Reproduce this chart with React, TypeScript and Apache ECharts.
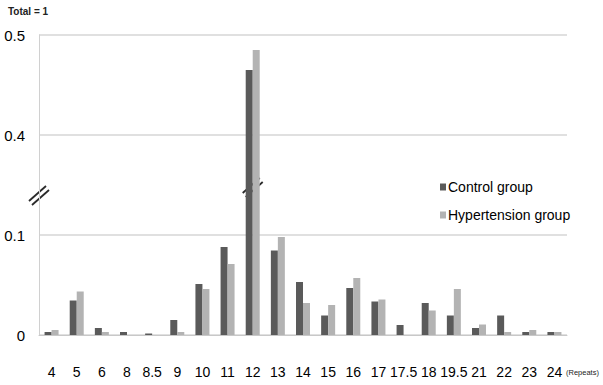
import React, { useEffect, useRef } from "react";
import * as echarts from "echarts";

const categories = ["4", "5", "6", "8", "8.5", "9", "10", "11", "12", "13", "14", "15", "16", "17", "17.5", "18", "19.5", "21", "22", "23", "24"];
const controlGroup = [0.003, 0.0345, 0.007, 0.003, 0.0015, 0.015, 0.051, 0.088, 0.465, 0.0845, 0.053, 0.0195, 0.047, 0.0335, 0.01, 0.032, 0.0195, 0.007, 0.0195, 0.003, 0.003];
const hypertensionGroup = [0.005, 0.0435, 0.003, 0, 0, 0.003, 0.046, 0.071, 0.485, 0.098, 0.032, 0.03, 0.057, 0.0355, 0, 0.0245, 0.046, 0.0105, 0.003, 0.005, 0.003];
const yTickLabels = ["0", "0.1", "0.4", "0.5"];
const seriesNames = ["Control group", "Hypertension group"];

// broken axis: values above the break are shifted down by 0.2 (0.4 -> 0.2 on the visual scale)
const BREAK_SHIFT = 0.2;
const toVisual = (v: number) => (v > 0.3 ? v - BREAK_SHIFT : v);

const FONT = "'Liberation Sans', Arial, sans-serif";

export default function App() {
  const ref = useRef<HTMLDivElement>(null);
  useEffect(() => {
    if (!ref.current) return;
    const chart = echarts.init(ref.current, null, { renderer: "svg" });
    chart.setOption({
      animation: false,
      backgroundColor: "#ffffff",
      grid: { left: 39, right: 36, top: 35, bottom: 50, containLabel: false },
      legend: {
        orient: "vertical",
        left: 435,
        top: 173,
        itemWidth: 6,
        itemHeight: 7,
        itemGap: 10,
        icon: "rect",
        textStyle: { fontFamily: FONT, fontSize: 14, color: "#000", lineHeight: 18, padding: [0, 0, 0, -3] },
        data: seriesNames,
      },
      xAxis: {
        type: "category",
        data: categories,
        axisLine: { lineStyle: { color: "#c8c8c8", width: 1 } },
        axisTick: { length: 8, lineStyle: { color: "#c8c8c8" } },
        axisLabel: { fontFamily: FONT, fontSize: 14, color: "#000", margin: 30, interval: 0 },
      },
      yAxis: {
        type: "value",
        min: 0,
        max: 0.3,
        interval: 0.1,
        axisLine: { show: true, lineStyle: { color: "#d0d0d0" } },
        axisTick: { show: false },
        splitLine: { lineStyle: { color: "#d6d6d6", width: 1.5 } },
        axisLabel: {
          fontFamily: FONT,
          fontSize: 15,
          color: "#000",
          margin: 14,
          formatter: (v: number) => yTickLabels[Math.round(v * 10)] ?? "",
        },
      },
      series: [
        {
          name: seriesNames[0],
          type: "bar",
          data: controlGroup.map(toVisual),
          barWidth: 7,
          barGap: "0%",
          itemStyle: { color: "#5a5a5a" },
        },
        {
          name: seriesNames[1],
          type: "bar",
          data: hypertensionGroup.map(toVisual),
          barWidth: 7,
          itemStyle: { color: "#b3b3b3" },
        },
      ],
    });

    // break marks, positioned through the axes
    const yBreak = chart.convertToPixel({ yAxisIndex: 0 }, 0.148) as number;
    const xFirst = chart.convertToPixel({ xAxisIndex: 0 }, 0) as number;
    const xSecond = chart.convertToPixel({ xAxisIndex: 0 }, 1) as number;
    const x0 = xFirst - (xSecond - xFirst) / 2;
    const x12 = chart.convertToPixel({ xAxisIndex: 0 }, 8) as number;
    const breakMark = (cx: number, cy: number) => ({
      type: "group",
      x: cx,
      y: cy,
      children: [
        { type: "polygon", shape: { points: [[-10, 7], [-7, 10], [10, -5], [7, -8]] }, style: { fill: "#ffffff" } },
        { type: "line", shape: { x1: -10, y1: 6, x2: 7, y2: -9 }, style: { stroke: "#2a2a2a", lineWidth: 1.8 } },
        { type: "line", shape: { x1: -7, y1: 10, x2: 10, y2: -5 }, style: { stroke: "#2a2a2a", lineWidth: 1.8 } },
      ],
    });
    chart.setOption({
      graphic: [
        breakMark(x0, yBreak + 8),
        breakMark(x12, yBreak),
        { type: "text", left: 8, top: 6, style: { text: "Total = 1", fontFamily: FONT, fontSize: 10, fontWeight: "bold", fill: "#222" } },
        { type: "text", left: 566, top: 368, style: { text: "(Repeats)", fontFamily: FONT, fontSize: 7.5, fill: "#222" } },
      ],
    });
    return () => chart.dispose();
  }, []);
  return <div ref={ref} style={{ width: 603, height: 385, position: "absolute", left: 0, top: 0 }} />;
}
